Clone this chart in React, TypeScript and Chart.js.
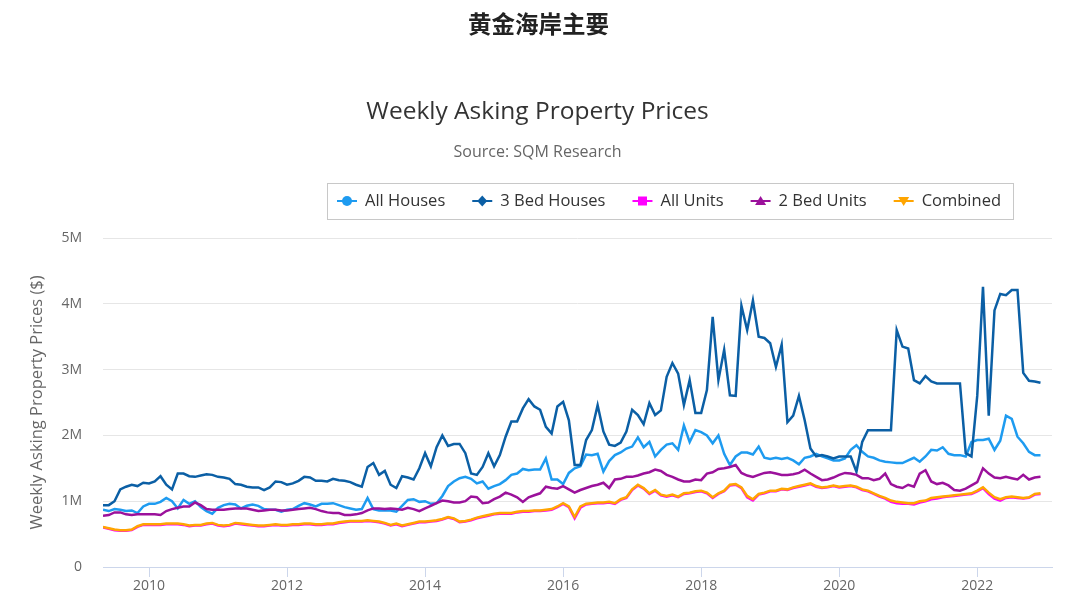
import React, { useEffect, useRef } from 'react';
import { Chart, registerables } from 'chart.js';

Chart.register(...registerables);

// ---- Data (monthly samples, values in $ millions) ----
const TOP_TITLE = '黄金海岸主要';
const TITLE = 'Weekly Asking Property Prices';
const SUBTITLE = 'Source: SQM Research';
const Y_TITLE = 'Weekly Asking Property Prices ($)';

const START_YEAR = 2009;
const START_MONTH = 5; // May 2009, one sample per month up to Dec 2022

const xTickYears = [2010, 2012, 2014, 2016, 2018, 2020, 2022];
const xTickLabels = ['2010', '2012', '2014', '2016', '2018', '2020', '2022'];
const yTickValues = [0, 1, 2, 3, 4, 5];
const yTickLabels = ['0', '1M', '2M', '3M', '4M', '5M'];

const seriesNames = ['All Houses', '3 Bed Houses', 'All Units', '2 Bed Units', 'Combined'];

const allHouses = [
  0.87, 0.85, 0.88, 0.87, 0.85, 0.86, 0.82, 0.92,
  0.96, 0.96, 0.99, 1.05, 1.00, 0.89, 1.02, 0.96, 1.00, 0.91, 0.85, 0.81,
  0.90, 0.94, 0.96, 0.95, 0.89, 0.93, 0.95, 0.93, 0.88, 0.87, 0.87, 0.84,
  0.87, 0.88, 0.93, 0.97, 0.95, 0.92, 0.96, 0.96, 0.97, 0.94, 0.91, 0.89,
  0.87, 0.88, 1.05, 0.88, 0.86, 0.86, 0.86, 0.84, 0.93, 1.02, 1.03, 0.99,
  1.00, 0.96, 0.97, 1.08, 1.23, 1.30, 1.35, 1.37, 1.34, 1.27, 1.30, 1.19,
  1.23, 1.26, 1.32, 1.40, 1.42, 1.49, 1.47, 1.48, 1.48, 1.65, 1.33, 1.33,
  1.26, 1.43, 1.50, 1.53, 1.71, 1.70, 1.72, 1.45, 1.61, 1.70, 1.74, 1.80,
  1.83, 1.97, 1.82, 1.90, 1.68, 1.78, 1.86, 1.88, 1.78, 2.15, 1.90, 2.08,
  2.05, 2.00, 1.88, 2.00, 1.72, 1.55, 1.68, 1.74, 1.74, 1.71, 1.83, 1.66,
  1.64, 1.66, 1.64, 1.66, 1.62, 1.56, 1.66, 1.68, 1.72, 1.68, 1.65, 1.62,
  1.62, 1.65, 1.78, 1.85, 1.75, 1.68, 1.66, 1.62, 1.60, 1.59, 1.58, 1.58,
  1.62, 1.66, 1.60, 1.68, 1.78, 1.77, 1.82, 1.72, 1.70, 1.70, 1.68, 1.90,
  1.93, 1.93, 1.95, 1.78, 1.92, 2.30, 2.25, 1.98, 1.88, 1.75, 1.70, 1.70,
];

const threeBedHouses = [
  0.94, 0.94, 1.00, 1.18, 1.22, 1.25, 1.23, 1.28,
  1.27, 1.30, 1.38, 1.25, 1.18, 1.42, 1.42, 1.38, 1.37, 1.39, 1.41, 1.40,
  1.37, 1.36, 1.34, 1.26, 1.25, 1.22, 1.21, 1.21, 1.17, 1.21, 1.30, 1.29,
  1.25, 1.27, 1.31, 1.37, 1.36, 1.31, 1.31, 1.30, 1.34, 1.32, 1.31, 1.29,
  1.25, 1.22, 1.52, 1.58, 1.40, 1.46, 1.25, 1.20, 1.38, 1.36, 1.33, 1.50,
  1.73, 1.53, 1.82, 2.00, 1.84, 1.87, 1.87, 1.73, 1.42, 1.40, 1.52, 1.73,
  1.53, 1.70, 1.98, 2.21, 2.21, 2.41, 2.55, 2.44, 2.39, 2.13, 2.03, 2.44,
  2.51, 2.23, 1.55, 1.55, 1.93, 2.08, 2.46, 2.06, 1.86, 1.84, 1.89, 2.06,
  2.39, 2.31, 2.17, 2.49, 2.31, 2.38, 2.89, 3.10, 2.94, 2.46, 2.84, 2.34,
  2.34, 2.69, 3.80, 2.84, 3.30, 2.61, 2.60, 3.97, 3.60, 4.05, 3.50, 3.48,
  3.40, 3.04, 3.38, 2.20, 2.30, 2.60, 2.23, 1.80, 1.68, 1.70, 1.68, 1.65,
  1.68, 1.68, 1.68, 1.45, 1.90, 2.08, 2.08, 2.08, 2.08, 2.08, 3.60, 3.35,
  3.32, 2.84, 2.79, 2.90, 2.82, 2.79, 2.79, 2.79, 2.79, 2.79, 1.73, 1.68,
  2.60, 4.26, 2.30, 3.90, 4.15, 4.13, 4.21, 4.21, 2.95, 2.83, 2.82, 2.80,
];

const allUnits = [
  0.60, 0.58, 0.56, 0.55, 0.55, 0.56, 0.61, 0.64,
  0.64, 0.64, 0.64, 0.65, 0.65, 0.65, 0.64, 0.62, 0.63, 0.63, 0.65, 0.66,
  0.63, 0.62, 0.63, 0.66, 0.65, 0.64, 0.63, 0.62, 0.62, 0.63, 0.64, 0.63,
  0.63, 0.64, 0.64, 0.65, 0.65, 0.64, 0.64, 0.65, 0.65, 0.67, 0.68, 0.69,
  0.69, 0.69, 0.70, 0.69, 0.68, 0.66, 0.63, 0.65, 0.62, 0.64, 0.66, 0.68,
  0.68, 0.69, 0.70, 0.72, 0.75, 0.73, 0.68, 0.69, 0.71, 0.74, 0.76, 0.78,
  0.80, 0.81, 0.81, 0.81, 0.83, 0.84, 0.84, 0.85, 0.85, 0.86, 0.87, 0.91,
  0.96, 0.91, 0.74, 0.90, 0.95, 0.96, 0.97, 0.97, 0.98, 0.96, 1.02, 1.05,
  1.17, 1.24, 1.19, 1.11, 1.16, 1.09, 1.07, 1.09, 1.06, 1.11, 1.12, 1.14,
  1.15, 1.12, 1.05, 1.11, 1.15, 1.24, 1.25, 1.20, 1.06, 1.01, 1.10, 1.12,
  1.15, 1.15, 1.18, 1.17, 1.20, 1.22, 1.24, 1.26, 1.22, 1.20, 1.21, 1.23,
  1.21, 1.22, 1.23, 1.21, 1.17, 1.15, 1.11, 1.07, 1.04, 0.99, 0.97, 0.96,
  0.96, 0.95, 0.98, 1.00, 1.03, 1.04, 1.06, 1.07, 1.08, 1.09, 1.10, 1.11,
  1.15, 1.20, 1.11, 1.04, 1.01, 1.05, 1.06, 1.05, 1.04, 1.05, 1.10, 1.11,
];

const twoBedUnits = [
  0.78, 0.79, 0.83, 0.83, 0.80, 0.79, 0.80, 0.80,
  0.80, 0.80, 0.79, 0.85, 0.88, 0.90, 0.92, 0.92, 0.98, 0.94, 0.88, 0.87,
  0.87, 0.87, 0.88, 0.89, 0.89, 0.89, 0.87, 0.85, 0.86, 0.87, 0.87, 0.86,
  0.86, 0.87, 0.88, 0.89, 0.90, 0.88, 0.85, 0.83, 0.82, 0.82, 0.79, 0.79,
  0.80, 0.82, 0.86, 0.89, 0.89, 0.88, 0.89, 0.88, 0.87, 0.90, 0.88, 0.85,
  0.89, 0.93, 0.97, 1.01, 1.00, 0.98, 0.98, 1.00, 1.07, 1.06, 0.97, 0.98,
  1.03, 1.07, 1.13, 1.10, 1.06, 0.99, 1.06, 1.09, 1.12, 1.22, 1.20, 1.19,
  1.23, 1.18, 1.13, 1.17, 1.20, 1.23, 1.25, 1.28, 1.20, 1.33, 1.34, 1.37,
  1.37, 1.39, 1.42, 1.44, 1.48, 1.46, 1.40, 1.37, 1.33, 1.30, 1.30, 1.33,
  1.32, 1.42, 1.44, 1.49, 1.50, 1.52, 1.55, 1.43, 1.39, 1.37, 1.40, 1.43,
  1.44, 1.42, 1.40, 1.40, 1.41, 1.43, 1.48, 1.42, 1.37, 1.32, 1.33, 1.36,
  1.40, 1.43, 1.42, 1.40, 1.35, 1.35, 1.32, 1.34, 1.42, 1.26, 1.22, 1.20,
  1.25, 1.22, 1.42, 1.47, 1.30, 1.26, 1.28, 1.24, 1.17, 1.16, 1.19, 1.24,
  1.29, 1.50, 1.42, 1.36, 1.35, 1.37, 1.35, 1.33, 1.40, 1.33, 1.36, 1.37,
];

const combined = [
  0.61, 0.59, 0.57, 0.56, 0.56, 0.57, 0.62, 0.65,
  0.65, 0.65, 0.65, 0.66, 0.66, 0.66, 0.65, 0.63, 0.64, 0.64, 0.66, 0.67,
  0.64, 0.63, 0.64, 0.67, 0.66, 0.65, 0.64, 0.63, 0.63, 0.64, 0.65, 0.64,
  0.64, 0.65, 0.65, 0.66, 0.66, 0.65, 0.65, 0.66, 0.66, 0.68, 0.69, 0.70,
  0.70, 0.70, 0.71, 0.70, 0.69, 0.67, 0.64, 0.66, 0.63, 0.65, 0.67, 0.69,
  0.69, 0.70, 0.71, 0.73, 0.76, 0.74, 0.69, 0.70, 0.72, 0.75, 0.77, 0.79,
  0.81, 0.82, 0.82, 0.82, 0.84, 0.85, 0.85, 0.86, 0.86, 0.87, 0.88, 0.92,
  0.97, 0.92, 0.76, 0.92, 0.96, 0.97, 0.98, 0.98, 0.99, 0.97, 1.03, 1.06,
  1.18, 1.25, 1.20, 1.12, 1.17, 1.10, 1.08, 1.10, 1.07, 1.12, 1.13, 1.15,
  1.16, 1.13, 1.06, 1.12, 1.16, 1.25, 1.26, 1.21, 1.08, 1.03, 1.11, 1.13,
  1.16, 1.16, 1.19, 1.18, 1.21, 1.23, 1.25, 1.27, 1.23, 1.21, 1.22, 1.24,
  1.22, 1.23, 1.24, 1.22, 1.18, 1.16, 1.12, 1.08, 1.05, 1.01, 0.99, 0.98,
  0.97, 0.97, 1.00, 1.01, 1.05, 1.06, 1.07, 1.08, 1.09, 1.10, 1.11, 1.12,
  1.16, 1.21, 1.13, 1.06, 1.03, 1.06, 1.07, 1.06, 1.05, 1.06, 1.11, 1.12,
];

const seriesValues = [allHouses, threeBedHouses, allUnits, twoBedUnits, combined];
const seriesColors = ['#1E9BF0', '#0B5FA5', '#FF00FF', '#9B119B', '#FFA500'];
const seriesMarkers = ['circle', 'diamond', 'square', 'triangle', 'triangleDown'];

const FONT = '"Open Sans", "DejaVu Sans", sans-serif';

function drawMarker(ctx: CanvasRenderingContext2D, kind: string, cx: number, cy: number, color: string) {
  ctx.fillStyle = color;
  ctx.beginPath();
  const r = 5;
  if (kind === 'circle') {
    ctx.arc(cx, cy, r, 0, Math.PI * 2);
  } else if (kind === 'diamond') {
    ctx.moveTo(cx, cy - r - 0.5);
    ctx.lineTo(cx + r, cy);
    ctx.lineTo(cx, cy + r + 0.5);
    ctx.lineTo(cx - r, cy);
    ctx.closePath();
  } else if (kind === 'square') {
    ctx.rect(cx - 4.5, cy - 4.5, 9, 9);
  } else if (kind === 'triangle') {
    ctx.moveTo(cx, cy - 5);
    ctx.lineTo(cx + 5.5, cy + 4);
    ctx.lineTo(cx - 5.5, cy + 4);
    ctx.closePath();
  } else {
    ctx.moveTo(cx, cy + 5);
    ctx.lineTo(cx + 5.5, cy - 4);
    ctx.lineTo(cx - 5.5, cy - 4);
    ctx.closePath();
  }
  ctx.fill();
}

const headerLegendPlugin = {
  id: 'headerLegend',
  afterDraw(chart: any) {
    const ctx: CanvasRenderingContext2D = chart.ctx;
    ctx.save();
    // Top Chinese title
    ctx.font = 'bold 23.5px "Noto Sans CJK SC", sans-serif';
    ctx.fillStyle = '#222';
    ctx.textAlign = 'center';
    ctx.textBaseline = 'middle';
    ctx.fillText(TOP_TITLE, 538.5, 24);

    // Legend
    ctx.font = '16.5px ' + FONT;
    ctx.textAlign = 'left';
    ctx.textBaseline = 'middle';
    const yc = 201;
    let sx = 337;
    chart.data.datasets.forEach((ds: any, i: number) => {
      const color = ds.borderColor;
      ctx.strokeStyle = color;
      ctx.lineWidth = 2;
      ctx.beginPath();
      ctx.moveTo(sx, yc);
      ctx.lineTo(sx + 20, yc);
      ctx.stroke();
      drawMarker(ctx, seriesMarkers[i], sx + 10, yc, color);
      ctx.fillStyle = '#333';
      const tx = sx + 28;
      ctx.fillText(ds.label, tx, yc);
      const w = ctx.measureText(ds.label).width;
      sx = tx + w + 27;
    });
    const right = sx - 27 + 12;
    ctx.strokeStyle = '#c8c8c8';
    ctx.lineWidth = 1;
    ctx.strokeRect(327.5, 183.5, right - 327, 36);
    ctx.restore();
  },
};

export default function App() {
  const canvasRef = useRef<HTMLCanvasElement | null>(null);

  useEffect(() => {
    if (!canvasRef.current) return;
    const xValues = allHouses.map((_, i) => START_YEAR + (START_MONTH - 1 + i) / 12);
    const datasets = seriesNames.map((name, i) => ({
      label: name,
      data: seriesValues[i].map((v, j) => ({ x: xValues[j], y: v })),
      borderColor: seriesColors[i],
      backgroundColor: seriesColors[i],
      borderWidth: 2.5,
      pointRadius: 0,
      pointHoverRadius: 0,
      tension: 0,
      fill: false,
      order: seriesNames.length - i,
    }));

    const chart = new Chart(canvasRef.current, {
      type: 'line',
      data: { datasets },
      plugins: [headerLegendPlugin],
      options: {
        responsive: false,
        animation: false,
        events: [],
        layout: { padding: { left: 23, right: 28, top: 0, bottom: 0 } },
        plugins: {
          legend: { display: false },
          tooltip: { enabled: false },
          title: {
            display: true,
            text: TITLE,
            color: '#333',
            font: { family: FONT, size: 24.5, weight: 'normal' },
            padding: { top: 97.8, bottom: 8 },
          },
          subtitle: {
            display: true,
            text: SUBTITLE,
            color: '#666',
            font: { family: FONT, size: 16, weight: 'normal' },
            padding: { top: 7.2, bottom: 76.4 },
          },
        },
        scales: {
          x: {
            type: 'linear',
            min: START_YEAR + (START_MONTH - 1) / 12,
            max: 2023 + 1 / 12,
            afterBuildTicks: (s: any) => {
              s.ticks = xTickYears.map((v) => ({ value: v }));
            },
            afterFit: (s: any) => {
              s.height = 31;
            },
            grid: { drawOnChartArea: false, color: '#ccd6eb', tickLength: 10 },
            border: { color: '#ccd6eb', width: 1 },
            ticks: {
              padding: 1,
              color: '#666',
              font: { family: FONT, size: 14 },
              maxRotation: 0,
              autoSkip: false,
              callback: (_v: any, i: number) => xTickLabels[i],
            },
          },
          y: {
            min: 0,
            max: 5,
            afterBuildTicks: (s: any) => {
              s.ticks = yTickValues.map((v) => ({ value: v }));
            },
            afterFit: (s: any) => {
              s.width = 80;
            },
            grid: { color: '#e6e6e6', drawTicks: false },
            border: { display: false },
            ticks: {
              padding: 21,
              color: '#666',
              font: { family: FONT, size: 14 },
              callback: (_v: any, i: number) => yTickLabels[i],
            },
            title: {
              display: true,
              text: Y_TITLE,
              color: '#666',
              font: { family: FONT, size: 16.5 },
              padding: { top: 4, bottom: 0 },
            },
          },
        },
      },
    } as any);
    return () => chart.destroy();
  }, []);

  return (
    <div style={{ position: 'absolute', left: 0, top: 0, width: 1080, height: 598, background: '#fff' }}>
      <canvas ref={canvasRef} width={1080} height={598} />
    </div>
  );
}
